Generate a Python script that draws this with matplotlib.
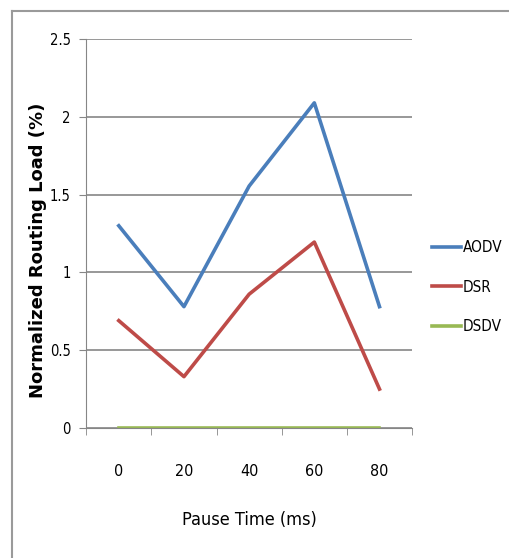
import numpy as np
from matplotlib import pyplot as plt
from matplotlib.lines import Line2D
from matplotlib.font_manager import FontProperties

# pause times and routing load values
pause = ["0", "20", "40", "60", "80"]
aodv = [1.30, 0.78, 1.555, 2.09, 0.78]
dsr = [0.69, 0.33, 0.86, 1.195, 0.25]
dsdv = [0.0, 0.0, 0.0, 0.0, 0.0]

narrow = dict(family="DejaVu Sans", stretch="condensed")

fig = plt.figure(figsize=(5.1, 5.58), dpi=100)
ax = fig.add_axes([0.169, 0.233, 0.639, 0.697])

x = np.arange(len(pause))
ax.plot(x, aodv, color="#4a7ebb", lw=2.6, label="AODV")
ax.plot(x, dsr, color="#be4b48", lw=2.6, label="DSR")
ax.plot(x, dsdv, color="#98b954", lw=2.6, label="DSDV")

ax.set_xlim(-0.5, 4.5)
ax.set_ylim(0, 2.5)
ax.set_yticks([0, 0.5, 1, 1.5, 2, 2.5])
ax.set_yticklabels(["0", "0.5", "1", "1.5", "2", "2.5"], fontsize=10.5, **narrow)
ax.set_xticks(x)
ax.set_xticklabels(pause, fontsize=11.5, **narrow)
ax.set_xticks(np.arange(-0.5, 5, 1), minor=True)
ax.tick_params(axis="x", which="major", length=0, pad=26)
ax.tick_params(axis="x", which="minor", length=5, color="#868686")
ax.tick_params(axis="y", length=5, color="#868686", pad=6)
ax.yaxis.grid(True, color="#868686", lw=1.2)
ax.set_axisbelow(True)
for s in ["top", "right"]:
    ax.spines[s].set_visible(False)
for s in ["left", "bottom"]:
    ax.spines[s].set_color("#868686")

ax.set_xlabel("Pause Time (ms)", fontsize=13, labelpad=23, **narrow)
ax.set_ylabel("Normalized Routing Load (%)", fontweight="bold", fontsize=13,
              family="DejaVu Sans")
ax.yaxis.set_label_coords(-0.12, 0.458)

legfont = FontProperties(family="DejaVu Sans", stretch="condensed", size=11)
leg = ax.legend(loc="center left", bbox_to_anchor=(1.02, 0.362), frameon=False,
                prop=legfont, handlelength=1.9, handletextpad=0.1, labelspacing=1.6)

# outer frame of the picture
fig.add_artist(Line2D([12 / 510, 12 / 510], [0, 1 - 11 / 558], color="#9a9a9a", lw=1.5))
fig.add_artist(Line2D([12 / 510, 1], [1 - 11 / 558, 1 - 11 / 558], color="#9a9a9a", lw=1.5))

fig.savefig("out.png", dpi=100)
